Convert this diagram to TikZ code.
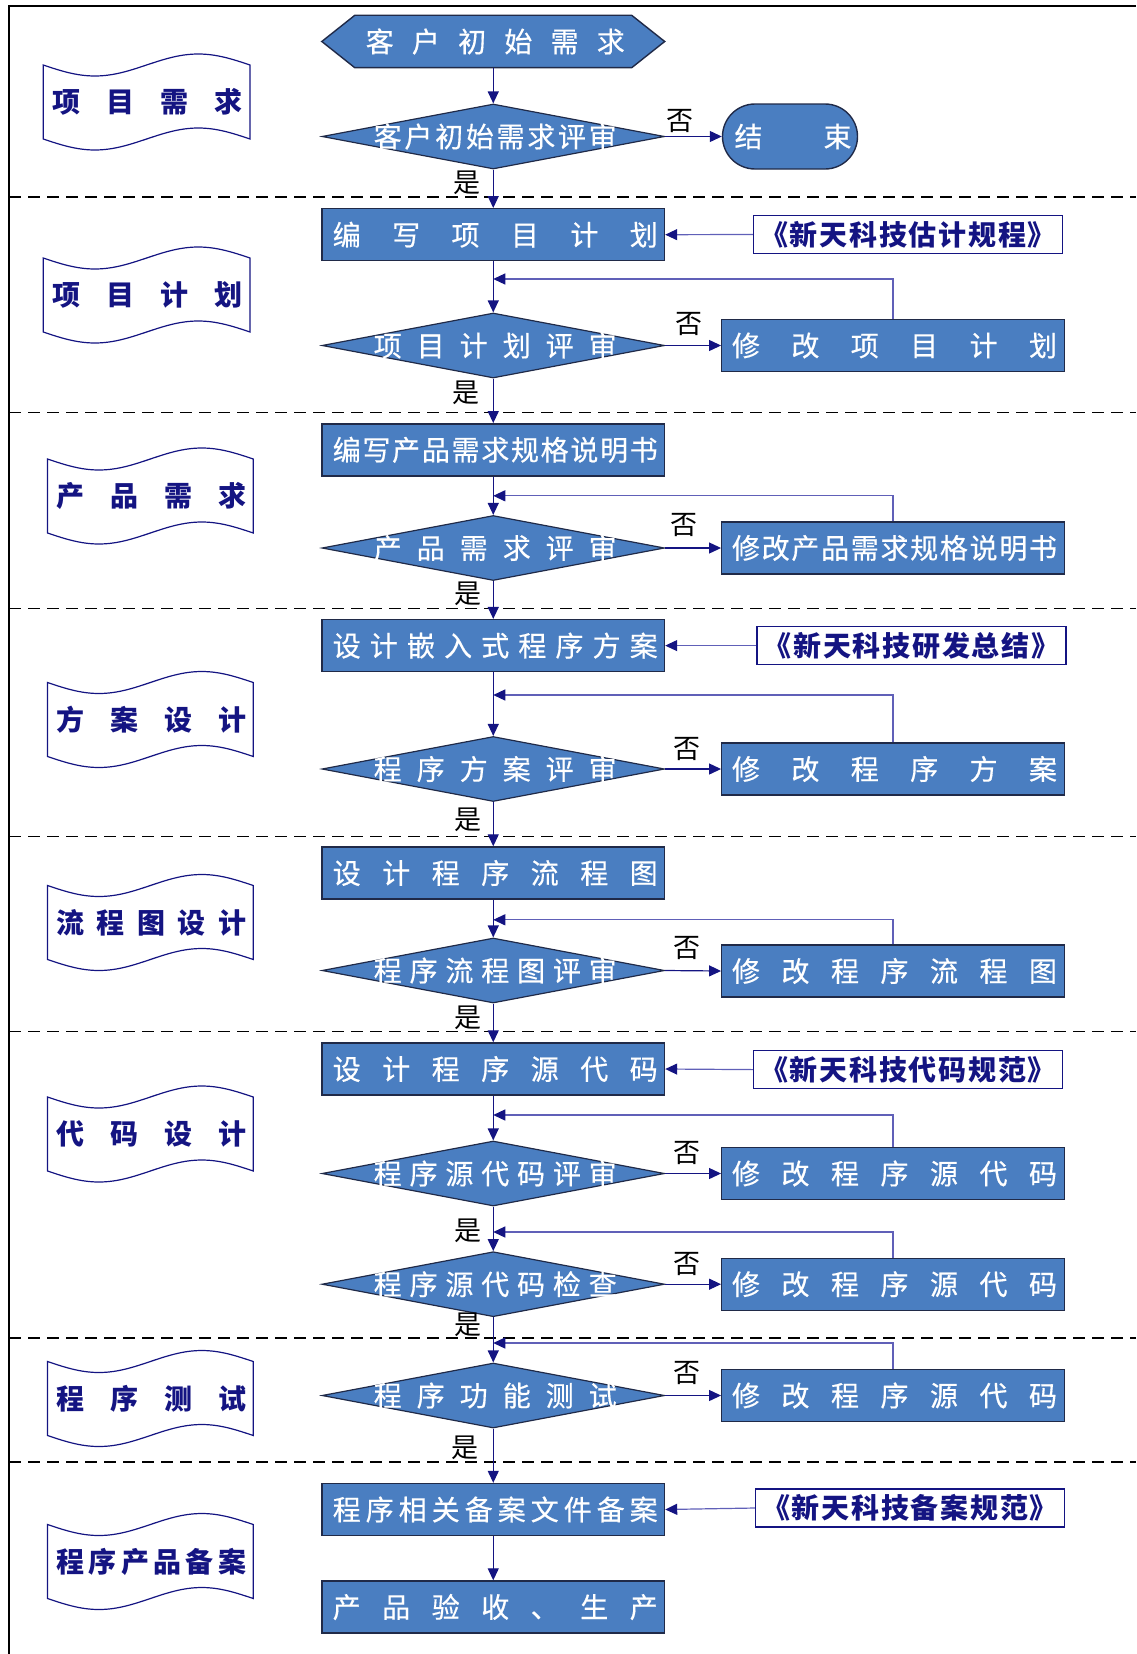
\documentclass[tikz,border=0pt]{standalone}
\usepackage{fontspec}
\setmainfont{Noto Sans CJK SC}
\newfontfamily\cjkmed[FakeBold=0.5]{Noto Sans CJK SC}
\usetikzlibrary{arrows.meta,shapes.geometric}
\definecolor{boxblue}{RGB}{74,126,193}
\definecolor{boxedge}{RGB}{32,42,72}
\definecolor{navyc}{RGB}{20,20,130}
\definecolor{loopc}{RGB}{96,96,184}
\ExplSyntaxOn
\NewDocumentCommand\spreadtxt{mm}{\makebox[#1][s]{\tl_map_inline:nn{#2}{##1\hfil}\unskip}}
\ExplSyntaxOff
\newcommand\drawbanner[5]{%
  \pgfmathsetmacro\bnw{#3-#2}%
  \draw[bannerline] (#2,{#4-37}) sin ({#2+\bnw/4},{#4-26}) cos ({#2+\bnw/2},{#4-37}) sin ({#2+3*\bnw/4},{#4-48}) cos (#3,{#4-37}) -- (#3,{#4+37}) sin ({#2+3*\bnw/4},{#4+26}) cos ({#2+\bnw/2},{#4+37}) sin ({#2+\bnw/4},{#4+48}) cos (#2,{#4+37}) -- cycle;
  \node[btext] (#1) at ({(#2+#3)/2+1},#4) {\spreadtxt{190pt}{#5}};
}
\tikzset{
  blk/.style={draw=boxedge, line width=1.4pt, fill=boxblue, rectangle, minimum width=342.5pt, minimum height=52pt, inner sep=0pt},
  dec/.style={draw=boxedge, line width=1.2pt, fill=boxblue, diamond, minimum width=342.5pt, minimum height=65pt, inner sep=0pt},
  term/.style={draw=boxedge, line width=1.4pt, fill=boxblue, rectangle, rounded corners=32.5pt, minimum width=135pt, minimum height=65pt, inner sep=0pt},
  docbox/.style={draw=navyc, line width=1.2pt, fill=white, rectangle, minimum width=309pt, minimum height=38pt, inner sep=0pt, text=navyc, font=\bfseries\fontsize{28pt}{30pt}\selectfont},
  wtext/.style={text=white, inner sep=0pt, font=\cjkmed\fontsize{28pt}{30pt}\selectfont},
  yn/.style={text=black, inner sep=0pt, font=\fontsize{27pt}{29pt}\selectfont},
  btext/.style={text=navyc, inner sep=0pt, font=\bfseries\fontsize{28pt}{30pt}\selectfont},
  bannerline/.style={draw=navyc, line width=1.2pt, fill=white},
  flow/.style={draw=navyc, line width=1.2pt, -{Triangle[length=12pt,width=11pt]}},
  back/.style={draw=loopc, line width=1.2pt, -{Triangle[length=12pt,width=11pt,color=navyc]}},
  sep/.style={draw=black, line width=1.5pt, dash pattern=on 12pt off 7pt},
}
\begin{document}
\begin{tikzpicture}[x=1pt,y=-1pt]
\useasboundingbox (0,0) rectangle (1136,1654);
% frame
\draw[line width=2pt] (1136,6) -- (9,6) -- (9,1654);
% separators
\foreach \yy in {197.2,412.6,608.6,836.5,1031.6,1338,1462}
  \draw[sep] (9,\yy) -- (1136,\yy);
% banners
\drawbanner{bn1}{43.2}{250}{102}{项目需求}
\drawbanner{bn2}{43.2}{250}{295}{项目计划}
\drawbanner{bn3}{47.5}{253.2}{496}{产品需求}
\drawbanner{bn4}{47.5}{253.2}{719.5}{方案设计}
\drawbanner{bn5}{47.5}{253.2}{922.5}{流程图设计}
\drawbanner{bn6}{47.5}{253.2}{1134}{代码设计}
\drawbanner{bn7}{47.5}{253.2}{1398.5}{程序测试}
\drawbanner{bn8}{47.5}{253.2}{1561.5}{程序产品备案}
% hexagon
\node[rectangle, minimum width=342.5pt, minimum height=52pt, inner sep=0pt] (hex) at (493.25,41.5) {};
\draw[draw=boxedge, line width=1.4pt, fill=boxblue] (hex.west) -- ([xshift=33pt]hex.north west) -- ([xshift=-33pt]hex.north east) -- (hex.east) -- ([xshift=-33pt]hex.south east) -- ([xshift=33pt]hex.south west) -- cycle;
\node[wtext] (hext) at ([xshift=2pt]hex.center) {\spreadtxt{259pt}{客户初始需求}};
% main column
\node[dec] (d1) at (493.25,136.5) {};
\node[blk] (b2) at (493.25,234.7) {};
\node[dec] (d2) at (493.25,345.5) {};
\node[blk] (b3) at (493.25,449.8) {};
\node[dec] (d3) at (493.25,548) {};
\node[blk] (b4) at (493.25,645.6) {};
\node[dec] (d4) at (493.25,769) {};
\node[blk] (b5) at (493.25,873) {};
\node[dec] (d5) at (493.25,970.5) {};
\node[blk] (b6) at (493.25,1069) {};
\node[dec] (d6) at (493.25,1173.5) {};
\node[dec] (d7) at (493.25,1284.2) {};
\node[dec] (d8) at (493.25,1395.5) {};
\node[blk] (b7) at (493.25,1509.5) {};
\node[blk] (b8) at (493.25,1607) {};
\node[wtext] (d1t) at ([xshift=2pt]d1.center) {\spreadtxt{243pt}{客户初始需求评审}};
\node[wtext] (b2t) at ([xshift=2pt]b2.center) {\spreadtxt{325pt}{编写项目计划}};
\node[wtext] (d2t) at ([xshift=2pt]d2.center) {\spreadtxt{243pt}{项目计划评审}};
\node[wtext] (b3t) at ([xshift=2pt]b3.center) {\spreadtxt{325pt}{编写产品需求规格说明书}};
\node[wtext] (d3t) at ([xshift=2pt]d3.center) {\spreadtxt{243pt}{产品需求评审}};
\node[wtext] (b4t) at ([xshift=2pt]b4.center) {\spreadtxt{325pt}{设计嵌入式程序方案}};
\node[wtext] (d4t) at ([xshift=2pt]d4.center) {\spreadtxt{243pt}{程序方案评审}};
\node[wtext] (b5t) at ([xshift=2pt]b5.center) {\spreadtxt{325pt}{设计程序流程图}};
\node[wtext] (d5t) at ([xshift=2pt]d5.center) {\spreadtxt{243pt}{程序流程图评审}};
\node[wtext] (b6t) at ([xshift=2pt]b6.center) {\spreadtxt{325pt}{设计程序源代码}};
\node[wtext] (d6t) at ([xshift=2pt]d6.center) {\spreadtxt{243pt}{程序源代码评审}};
\node[wtext] (d7t) at ([xshift=2pt]d7.center) {\spreadtxt{243pt}{程序源代码检查}};
\node[wtext] (d8t) at ([xshift=2pt]d8.center) {\spreadtxt{243pt}{程序功能测试}};
\node[wtext] (b7t) at ([xshift=2pt]b7.center) {\spreadtxt{325pt}{程序相关备案文件备案}};
\node[wtext] (b8t) at ([xshift=2pt]b8.center) {\spreadtxt{325pt}{产品验收、生产}};
% right column
\node[term] (endn) at (790,136.5) {};
\node[wtext] (endt) at ([xshift=3pt]endn.center) {\spreadtxt{117pt}{结束}};
\node[blk] (r2) at (893,345.5) {};
\node[blk] (r3) at (893,548) {};
\node[blk] (r4) at (893,769) {};
\node[blk] (r5) at (893,971) {};
\node[blk] (r6) at (893,1173.5) {};
\node[blk] (r7) at (893,1284.2) {};
\node[blk] (r8) at (893,1395.5) {};
\node[wtext] (r2t) at ([xshift=1.5pt]r2.center) {\spreadtxt{325pt}{修改项目计划}};
\node[wtext] (r3t) at ([xshift=1.5pt]r3.center) {\spreadtxt{325pt}{修改产品需求规格说明书}};
\node[wtext] (r4t) at ([xshift=1.5pt]r4.center) {\spreadtxt{325pt}{修改程序方案}};
\node[wtext] (r5t) at ([xshift=1.5pt]r5.center) {\spreadtxt{325pt}{修改程序流程图}};
\node[wtext] (r6t) at ([xshift=1.5pt]r6.center) {\spreadtxt{325pt}{修改程序源代码}};
\node[wtext] (r7t) at ([xshift=1.5pt]r7.center) {\spreadtxt{325pt}{修改程序源代码}};
\node[wtext] (r8t) at ([xshift=1.5pt]r8.center) {\spreadtxt{325pt}{修改程序源代码}};
% documents
\node[docbox] (doc1) at (908,234.5) {\spreadtxt{296pt}{《新天科技估计规程》}};
\node[docbox] (doc2) at (911.5,645.6) {\spreadtxt{296pt}{《新天科技研发总结》}};
\node[docbox] (doc3) at (908,1069.6) {\spreadtxt{296pt}{《新天科技代码规范》}};
\node[docbox] (doc4) at (910,1508) {\spreadtxt{296pt}{《新天科技备案规范》}};
% main flow
\draw[flow] (hex.south) -- (d1.north);
\draw[flow] (d1.south) -- (b2.north);
\draw[flow] (b2.south) -- (d2.north);
\draw[flow] (d2.south) -- (b3.north);
\draw[flow] (b3.south) -- (d3.north);
\draw[flow] (d3.south) -- (b4.north);
\draw[flow] (b4.south) -- (d4.north);
\draw[flow] (d4.south) -- (b5.north);
\draw[flow] (b5.south) -- (d5.north);
\draw[flow] (d5.south) -- (b6.north);
\draw[flow] (b6.south) -- (d6.north);
\draw[flow] (d6.south) -- (d7.north);
\draw[flow] (d7.south) -- (d8.north);
\draw[flow] (d8.south) -- (b7.north);
\draw[flow] (b7.south) -- (b8.north);
% no branches
\draw[flow] (d1.east) -- (endn.west);
\draw[flow] (d2.east) -- (r2.west);
\draw[flow] (d3.east) -- (r3.west);
\draw[flow] (d4.east) -- (r4.west);
\draw[flow] (d5.east) -- (r5.west);
\draw[flow] (d6.east) -- (r6.west);
\draw[flow] (d7.east) -- (r7.west);
\draw[flow] (d8.east) -- (r8.west);
% document links
\draw[back] (doc1.west) -- (b2.east);
\draw[back] (doc2.west) -- (b4.east);
\draw[back] (doc3.west) -- (b6.east);
\draw[back] (doc4.west) -- (b7.east);
% loops back
\coordinate (l2) at (493.25,279);
\coordinate (l3) at (493.25,495.8);
\coordinate (l4) at (493.25,695);
\coordinate (l5) at (493.25,919.8);
\coordinate (l6) at (493.25,1115);
\coordinate (l7) at (493.25,1232);
\coordinate (l8) at (493.25,1343);
\draw[back] (r2.north) |- (l2);
\draw[back] (r3.north) |- (l3);
\draw[back] (r4.north) |- (l4);
\draw[back] (r5.north) |- (l5);
\draw[back] (r6.north) |- (l6);
\draw[back] (r7.north) |- (l7);
\draw[back] (r8.north) |- (l8);
% labels
\node[yn] (n1) at (680,121) {否};
\node[yn] (n2) at (689,324) {否};
\node[yn] (n3) at (683.5,525) {否};
\node[yn] (n4) at (687,749) {否};
\node[yn] (n5) at (687,948) {否};
\node[yn] (n6) at (687,1153) {否};
\node[yn] (n7) at (687,1264) {否};
\node[yn] (n8) at (687,1373) {否};
\node[yn] (y1) at (467,182.5) {是};
\node[yn] (y2) at (466,393) {是};
\node[yn] (y3) at (468,594) {是};
\node[yn] (y4) at (468,819.6) {是};
\node[yn] (y5) at (468,1018) {是};
\node[yn] (y6) at (468,1231) {是};
\node[yn] (y7) at (468,1325) {是};
\node[yn] (y8) at (465,1448) {是};
\end{tikzpicture}
\end{document}
